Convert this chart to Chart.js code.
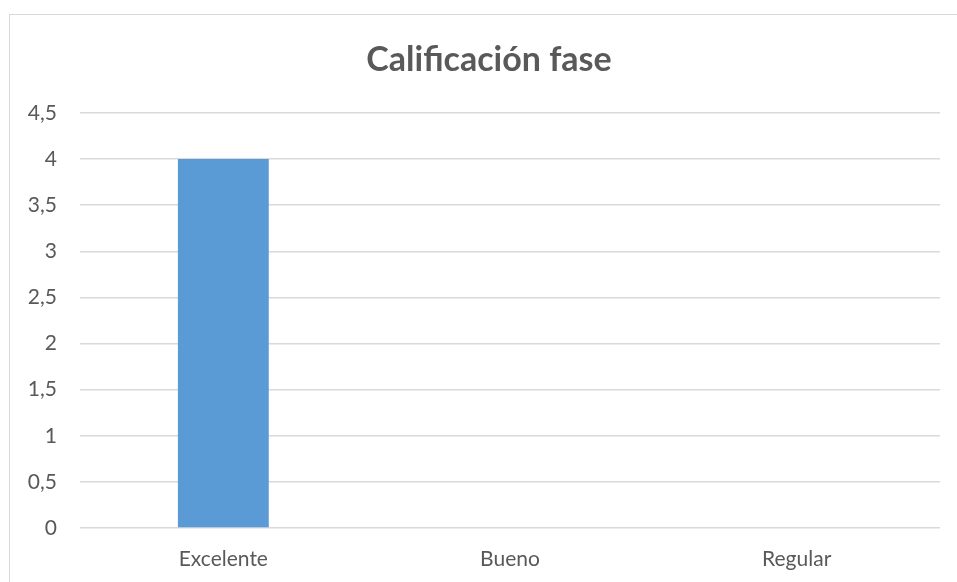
<!DOCTYPE html>
<html>
<head>
<meta charset="utf-8">
<script src="https://cdn.jsdelivr.net/npm/chart.js@4.4.0/dist/chart.umd.min.js"></script>
<style>
  body { margin: 0; background: #fff; overflow: hidden; }
  #marco { position: absolute; left: 9px; top: 14px; width: 960px; height: 600px;
           border-left: 1px solid #d9d9d9; border-top: 1px solid #d9d9d9; }
  #myChart { position: absolute; left: 0; top: 0; }
</style>
</head>
<body>
<div id="marco"></div>
<canvas id="myChart" width="957" height="582"></canvas>
<script>
// datos del grafico
const categorias = ["Excelente", "Bueno", "Regular"];
const valores = [4, 0, 0];
const tituloGrafico = "Calificación fase";

// titulo centrado sobre el marco del grafico (no sobre el area del canvas)
const tituloPlugin = {
  id: "tituloMarco",
  afterDraw: function (chart) {
    const c = chart.ctx;
    c.save();
    c.font = "bold 34px Lato";
    c.fillStyle = "#595959";
    c.textAlign = "center";
    c.textBaseline = "middle";
    c.fillText(tituloGrafico, 489, 60);
    c.restore();
  },
};

window.onload = function () {
  const ctx = document.getElementById("myChart").getContext("2d");

  const data = {
    labels: categorias,
    datasets: [
      {
        label: "Calificación",
        data: valores,
        backgroundColor: "#5b9bd5",
        borderWidth: 0,
        categoryPercentage: 1,
        barPercentage: 0.317,
      },
    ],
  };

  const config = {
    type: "bar",
    data: data,
    plugins: [tituloPlugin],
    options: {
      responsive: false,
      animation: false,
      layout: { padding: { left: 0, right: 17, top: 113, bottom: 0 } },
      plugins: {
        legend: { display: false },
        tooltip: { enabled: false },
        title: { display: false },
      },
      scales: {
        x: {
          afterFit: function (scale) { scale.height = 54; },
          grid: { display: false },
          border: { display: false },
          ticks: {
            color: "#595959",
            font: { family: "Lato", size: 21 },
            padding: 11,
          },
        },
        y: {
          min: 0,
          max: 4.5,
          afterFit: function (scale) { scale.width = 80; },
          grid: { color: "#d9d9d9", lineWidth: 1.5, drawTicks: false },
          border: { display: false },
          ticks: {
            stepSize: 0.5,
            color: "#595959",
            font: { family: "Lato", size: 21 },
            padding: 23,
            callback: function (v) { return String(v).replace(".", ","); },
          },
        },
      },
    },
  };

  const myChart = new Chart(ctx, config);
};
</script>
</body>
</html>
